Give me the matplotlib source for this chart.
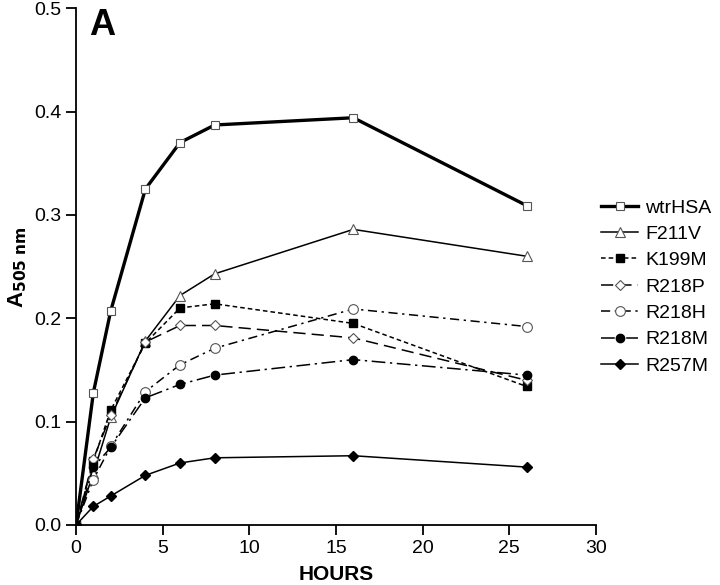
import matplotlib
matplotlib.use("Agg")
import matplotlib.pyplot as plt

plt.rcParams['font.family'] = ['Liberation Sans', 'DejaVu Sans']

# time points (hours)
hours = [0, 1, 2, 4, 6, 8, 16, 26]

# A505 readings per variant
wtrHSA = [0.0, 0.128, 0.207, 0.325, 0.370, 0.387, 0.394, 0.309]
F211V = [0.0, 0.050, 0.104, 0.178, 0.222, 0.243, 0.286, 0.260]
K199M = [0.0, 0.062, 0.111, 0.176, 0.210, 0.214, 0.195, 0.134]
R218P = [0.0, 0.064, 0.106, 0.177, 0.193, 0.193, 0.181, 0.140]
R218H = [0.0, 0.044, 0.076, 0.129, 0.155, 0.171, 0.209, 0.192]
R218M = [0.0, 0.056, 0.075, 0.123, 0.136, 0.145, 0.160, 0.145]
R257M = [0.0, 0.018, 0.028, 0.048, 0.060, 0.065, 0.067, 0.056]

fig = plt.figure(figsize=(7.2, 5.85), dpi=100)
ax = fig.add_axes([0.1056, 0.1026, 0.7222, 0.8834])

ms = 6
ax.plot(hours, wtrHSA, color='black', lw=2.4, marker='s', ms=ms,
        mfc='white', mec='#555555', mew=0.8, label='wtrHSA')
ax.plot(hours, F211V, color='black', lw=1.1, marker='^', ms=ms + 1,
        mfc='white', mec='#555555', mew=0.8, label='F211V')
ax.plot(hours, K199M, color='black', lw=1.1, ls=(0, (3, 2)), marker='s', ms=ms,
        mfc='black', mec='black', label='K199M')
ax.plot(hours, R218P, color='black', lw=1.1, ls=(0, (8, 4)), marker='D', ms=ms - 1,
        mfc='white', mec='#555555', mew=0.8, label='R218P')
ax.plot(hours, R218H, color='black', lw=1.1, ls=(0, (6, 3, 1.5, 3)), marker='o', ms=ms + 1,
        mfc='white', mec='#555555', mew=0.8, label='R218H')
ax.plot(hours, R218M, color='black', lw=1.1, ls=(0, (9, 3, 1.5, 3)), marker='o', ms=ms,
        mfc='black', mec='black', label='R218M')
ax.plot(hours, R257M, color='black', lw=1.1, marker='D', ms=ms - 1,
        mfc='black', mec='black', label='R257M')

ax.set_xlim(0, 30)
ax.set_ylim(0, 0.5)
ax.set_xticks([0, 5, 10, 15, 20, 25, 30])
ax.set_yticks([0.0, 0.1, 0.2, 0.3, 0.4, 0.5])
ax.set_yticklabels(['0.0', '0.1', '0.2', '0.3', '0.4', '0.5'])
ax.spines['top'].set_visible(False)
ax.spines['right'].set_visible(False)
ax.spines['left'].set_linewidth(1.3)
ax.spines['bottom'].set_linewidth(1.3)
ax.tick_params(direction='out', length=7, width=1.3, labelsize=14)

ax.set_xlabel('HOURS', fontsize=15, fontweight='bold', labelpad=6)
ax.set_ylabel(r'A$_{\mathbf{505\ nm}}$', fontsize=16, fontweight='bold', labelpad=4)

ax.text(0.025, 1.0, 'A', transform=ax.transAxes, fontsize=26, fontweight='bold',
        va='top', ha='left')

fig.legend(*ax.get_legend_handles_labels(), loc='upper left',
           bbox_to_anchor=(0.835, 0.66), frameon=False, borderpad=0,
           borderaxespad=0, fontsize=14, handlelength=1.9, handletextpad=0.35,
           labelspacing=0.45)

fig.savefig('out.png', dpi=100)
